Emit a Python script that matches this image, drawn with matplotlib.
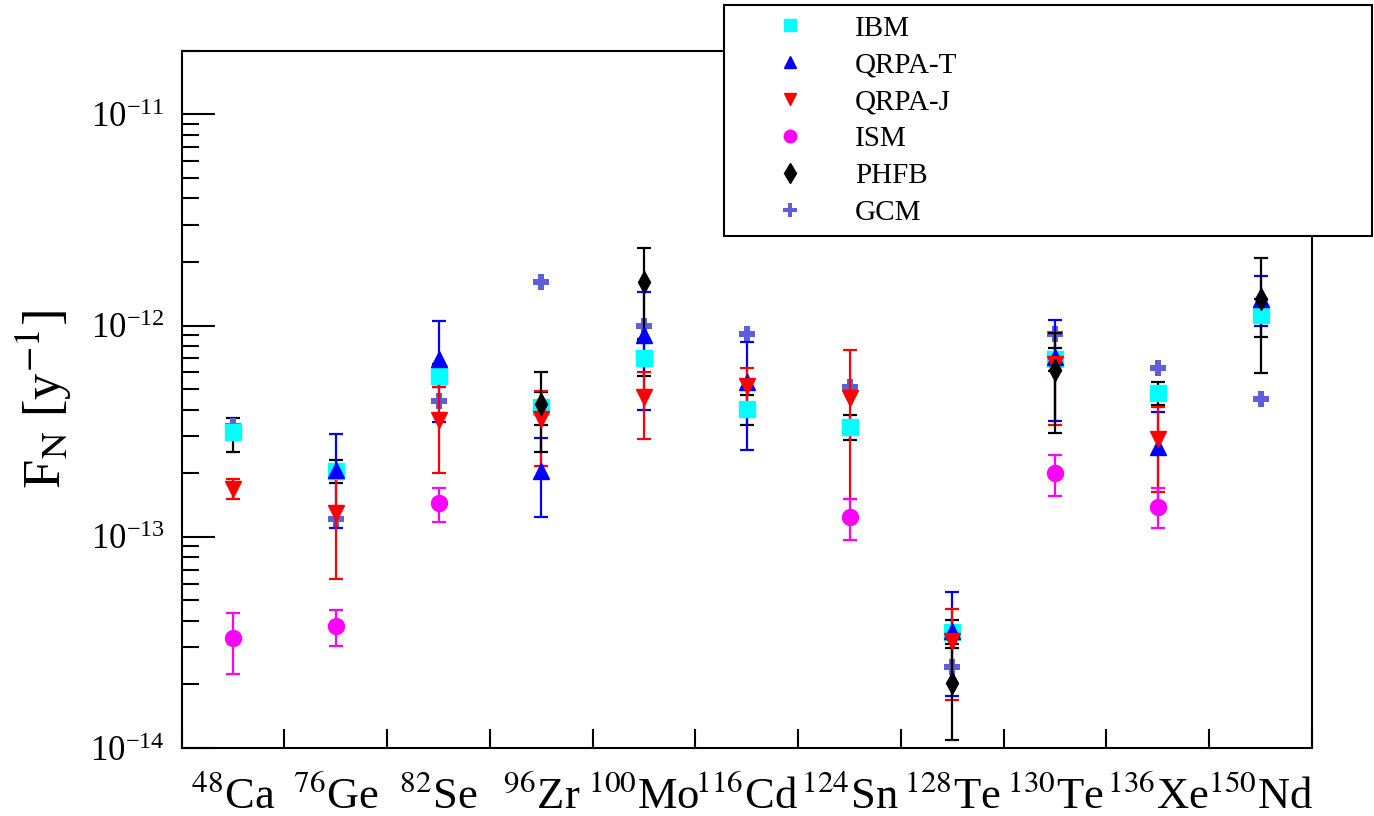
import numpy as np
import matplotlib
matplotlib.use("Agg")
import matplotlib.pyplot as plt
from matplotlib.lines import Line2D
from matplotlib.ticker import NullFormatter

plt.rcParams['font.family'] = 'serif'
plt.rcParams['font.serif'] = ['Liberation Serif', 'DejaVu Serif']
plt.rcParams['mathtext.fontset'] = 'stix'

nan = np.nan

#   nuclei along the x axis
nuclei = [r'$^{48}$Ca', r'$^{76}$Ge', r'$^{82}$Se', r'$^{96}$Zr', r'$^{100}$Mo',
          r'$^{116}$Cd', r'$^{124}$Sn', r'$^{128}$Te', r'$^{130}$Te',
          r'$^{136}$Xe', r'$^{150}$Nd']

#   F_N values [1/y] with upper / lower ends of the error bars
ibm = [3.12e-13, 2.05e-13, 5.8e-13, 4.1e-13, 7.05e-13, 4.03e-13, 3.32e-13, 3.53e-14, 6.96e-13, 4.8e-13, 1.12e-12]
ibm_hi = [3.64e-13, 2.31e-13, 6.6e-13, 4.85e-13, 8.5e-13, 4.69e-13, 3.77e-13, 4.02e-14, 7.85e-13, 5.43e-13, 1.34e-12]
ibm_lo = [2.52e-13, 1.79e-13, 5.1e-13, 3.39e-13, 5.8e-13, 3.39e-13, 2.86e-13, 3.1e-14, 6.1e-13, 4.2e-13, 8.8e-13]

qrpa_t = [nan, 2.07e-13, 6.96e-13, 2.05e-13, 8.98e-13, 5.4e-13, nan, 3.57e-14, 7.1e-13, 2.65e-13, 1.33e-12]
qrpa_t_hi = [nan, 3.06e-13, 1.046e-12, 2.95e-13, 1.45e-12, 8.4e-13, nan, 5.49e-14, 1.066e-12, 3.9e-13, 1.72e-12]
qrpa_t_lo = [nan, 1.1e-13, 3.5e-13, 1.24e-13, 3.98e-13, 2.58e-13, nan, 1.77e-14, 3.54e-13, 1.4e-13, 1.0e-12]

qrpa_j = [1.69e-13, 1.29e-13, 3.58e-13, 3.61e-13, 4.58e-13, 5.16e-13, 4.53e-13, 3.22e-14, 6.6e-13, 2.92e-13, nan]
qrpa_j_hi = [1.87e-13, 1.87e-13, 5.1e-13, 4.89e-13, 6.02e-13, 6.3e-13, 7.7e-13, 4.56e-14, 9.2e-13, 4.13e-13, nan]
qrpa_j_lo = [1.51e-13, 6.28e-14, 2.01e-13, 2.17e-13, 2.92e-13, 3.74e-13, 1.51e-13, 1.69e-14, 3.37e-13, 1.63e-13, nan]

ism = [3.32e-14, 3.8e-14, 1.44e-13, nan, nan, nan, 1.24e-13, nan, 2.0e-13, 1.39e-13, nan]
ism_hi = [4.36e-14, 4.52e-14, 1.71e-13, nan, nan, nan, 1.51e-13, nan, 2.44e-13, 1.70e-13, nan]
ism_lo = [2.25e-14, 3.03e-14, 1.17e-13, nan, nan, nan, 9.64e-14, nan, 1.56e-13, 1.10e-13, nan]

phfb = [nan, nan, nan, 4.25e-13, 1.61e-12, nan, nan, 2.03e-14, 6.15e-13, nan, 1.34e-12]
phfb_hi = [nan, nan, nan, 6.02e-13, 2.34e-12, nan, nan, 2.97e-14, 9.2e-13, nan, 2.08e-12]
phfb_lo = [nan, nan, nan, 2.51e-13, 8.6e-13, nan, nan, 1.09e-14, 3.1e-13, nan, 5.96e-13]

gcm = [3.36e-13, 1.22e-13, 4.41e-13, 1.61e-12, 1.0e-12, 9.15e-13, 5.1e-13, 2.41e-14, 9.15e-13, 6.28e-13, 4.49e-13]

gcm_col = '#5f5fd7'


def yerr(v, hi, lo):
    v, hi, lo = np.array(v), np.array(hi), np.array(lo)
    return [v - lo, hi - v]


fig = plt.figure(figsize=(13.74, 8.16), dpi=100)
ax = fig.add_axes([0.1322, 0.0833, 0.8226, 0.8544])
x = np.arange(len(nuclei))

eb = dict(linestyle='none', elinewidth=1.6, capthick=1.6, capsize=5)
ax.errorbar(x, ibm, yerr=yerr(ibm, ibm_hi, ibm_lo), marker='s', ms=11.5,
            color='#00ffff', ecolor='black', **eb)
ax.plot(x, gcm, linestyle='none', marker='P', ms=12, color=gcm_col, mew=0)
ax.errorbar(x, qrpa_t, yerr=yerr(qrpa_t, qrpa_t_hi, qrpa_t_lo), marker='^', ms=12,
            color='#0000ff', ecolor='#0000ff', **eb)
ax.errorbar(x, qrpa_j, yerr=yerr(qrpa_j, qrpa_j_hi, qrpa_j_lo), marker='v', ms=12,
            color='#ff0000', ecolor='#ff0000', **eb)
ax.errorbar(x, ism, yerr=yerr(ism, ism_hi, ism_lo), marker='o', ms=11.5,
            color='#ff00ff', ecolor='#ff00ff', **eb)
ax.errorbar(x, phfb, yerr=yerr(phfb, phfb_hi, phfb_lo), marker='d', ms=11,
            color='black', ecolor='black', **eb)

ax.set_yscale('log')
ax.set_yticks([1e-14, 1e-13, 1e-12, 1e-11])
ax.set_ylim(1e-14, 2e-11)
ax.set_xlim(-0.5, len(nuclei) - 0.5)
ax.yaxis.set_minor_formatter(NullFormatter())

ax.set_xticks(x)
ax.set_xticklabels(nuclei, fontsize=32)
ax.set_xticks(np.arange(len(nuclei) + 1) - 0.5, minor=True)
ax.tick_params(axis='x', which='major', length=0, pad=20)
ax.tick_params(axis='x', which='minor', direction='in', length=13.5, width=1.5)
ax.tick_params(axis='y', which='major', direction='in', length=24, width=1.5,
               labelsize=25, pad=12)
ax.tick_params(axis='y', which='minor', direction='in', length=12, width=1.5)
for s in ax.spines.values():
    s.set_linewidth(1.5)

ax.set_ylabel(r'F$_{\rm N}$ [y$^{-1}$]', fontsize=38, va='center')
ax.yaxis.set_label_coords(-0.122, 0.5)

handles = [
    Line2D([], [], linestyle='none', marker='s', ms=9, color='#00ffff'),
    Line2D([], [], linestyle='none', marker='^', ms=9, color='#0000ff'),
    Line2D([], [], linestyle='none', marker='v', ms=9, color='#ff0000'),
    Line2D([], [], linestyle='none', marker='o', ms=9, color='#ff00ff'),
    Line2D([], [], linestyle='none', marker='d', ms=10, color='black'),
    Line2D([], [], linestyle='none', marker='P', ms=10, color=gcm_col, mew=0),
]
labels = ['IBM', 'QRPA-T', 'QRPA-J', 'ISM', 'PHFB', 'GCM']
leg = fig.legend(handles, labels, loc='upper left',
                 bbox_to_anchor=(0.5269, 0.6, 0.4716, 0.3939), mode='expand',
                 borderaxespad=0, borderpad=0.35, handlelength=3.8,
                 handletextpad=0.35, labelspacing=0.36, fontsize=21,
                 fancybox=False, framealpha=1, edgecolor='black')
leg.get_frame().set_linewidth(1.5)

fig.savefig('out.png', dpi=100)
